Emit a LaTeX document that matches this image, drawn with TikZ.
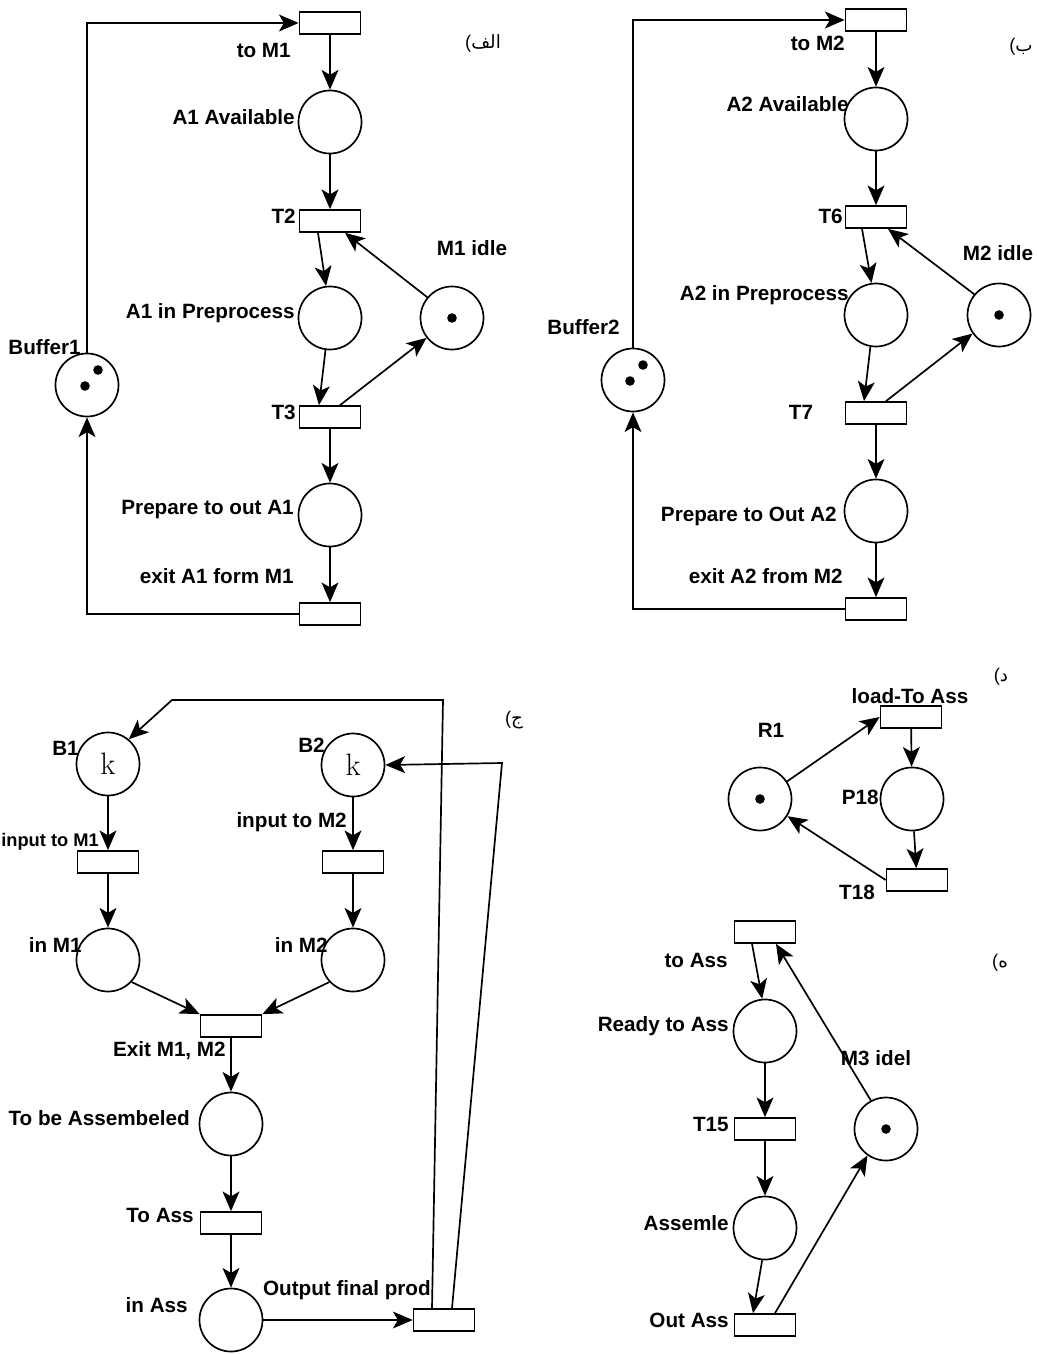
\documentclass[tikz,border=0pt]{standalone}
\usepackage{fontspec}
\newfontfamily\lblfont{Liberation Sans}
\newfontfamily\arabicfont[Script=Arabic]{DejaVu Sans}
\TeXXeTstate=1
\usetikzlibrary{arrows.meta,calc}
\tikzset{
  pn/place/.style={draw, circle, line width=1.2pt, minimum size=1.575cm, inner sep=0pt},
  pn/trans/.style={draw, rectangle, line width=1.2pt, minimum width=1.525cm, minimum height=0.55cm, inner sep=0pt},
  pn/token/.style={circle, fill=black, inner sep=0pt, minimum size=2.4mm},
  pn/lbl/.style={font=\lblfont\bfseries\fontsize{14.7}{16}\selectfont, inner sep=0pt},
  pn/kay/.style={font=\fontsize{22}{22}\selectfont},
  pn/part/.style={font=\arabicfont\fontsize{13}{15}\selectfont, inner sep=0pt},
  pn/arc/.style={line width=1.2pt, -{Stealth[length=14pt,width=12pt,inset=3.5pt]}}
}
\newcommand\partparen{{\lblfont(}}

\begin{document}
\begin{tikzpicture}[x=0.025cm, y=-0.025cm]
\useasboundingbox (0,0) rectangle (1037,1354);

% panel alef
\node[pn/trans] (tom1) at (330,23) {};
\node[pn/place] (a1av) at (330,122) {};
\node[pn/trans] (t2) at (330,221) {};
\node[pn/place] (a1pre) at (330,318) {};
\node[pn/place] (m1idle) at (452,318) {};
\node[pn/token] (m1tok) at (m1idle) {};
\node[pn/trans] (t3) at (330,417) {};
\node[pn/place] (a1out) at (330,515) {};
\node[pn/trans] (ex1) at (330,614) {};
\node[pn/place] (buf1) at (87,385) {};
\node[pn/token] (b1tokA) at (98,370) {};
\node[pn/token] (b1tokB) at (85,386) {};
\node[pn/lbl, anchor=east] (l-tom1) at (291,50) {to M1};
\node[pn/lbl, anchor=east] (l-a1av) at (295,117) {A1 Available};
\node[pn/lbl, anchor=east] (l-t2) at (296,216) {T2};
\node[pn/lbl] (l-m1idle) at (472,248) {M1 idle};
\node[pn/lbl, anchor=east] (l-a1pre) at (295,313) {A1 in Preprocess};
\node[pn/lbl, anchor=east] (l-buf1) at (81,347) {Buffer1};
\node[pn/lbl, anchor=east] (l-t3) at (296,412) {T3};
\node[pn/lbl, anchor=east] (l-a1out) at (294,510) {Prepare to out A1};
\node[pn/lbl, anchor=east] (l-ex1) at (294,576) {exit A1 form M1};
\node[pn/part] (p-alef) at (483,43) {\partparen\beginR الف\endR};
\draw[pn/arc] (tom1) -- (a1av);
\draw[pn/arc] (a1av) -- (t2);
\draw[pn/arc] ($(t2.south)+(-12,0)$) -- (a1pre.97);
\draw[pn/arc] (m1idle.140) -- ($(t2.south)+(15,0)$);
\draw[pn/arc] (a1pre.262) -- ($(t3.north)+(-11,0)$);
\draw[pn/arc] ($(t3.north)+(10,0)$) -- (m1idle.218);
\draw[pn/arc] (t3) -- (a1out);
\draw[pn/arc] (a1out) -- (ex1);
\draw[pn/arc] (ex1.west) -| (buf1.south);
\draw[pn/arc] (buf1.north) |- (tom1.west);

% panel be
\node[pn/trans] (tom2) at (876,20) {};
\node[pn/place] (a2av) at (876,119) {};
\node[pn/trans] (t6) at (876,217) {};
\node[pn/place] (a2pre) at (876,315) {};
\node[pn/place] (m2idle) at (999,315) {};
\node[pn/token] (m2tok) at (m2idle) {};
\node[pn/trans] (t7) at (876,413) {};
\node[pn/place] (a2out) at (876,511) {};
\node[pn/trans] (ex2) at (876,609) {};
\node[pn/place] (buf2) at (633,380) {};
\node[pn/token] (b2tokA) at (643,365) {};
\node[pn/token] (b2tokB) at (630,381) {};
\node[pn/lbl, anchor=east] (l-tom2) at (845,43) {to M2};
\node[pn/lbl, anchor=east] (l-a2av) at (849,104) {A2 Available};
\node[pn/lbl, anchor=east] (l-t6) at (843,216) {T6};
\node[pn/lbl] (l-m2idle) at (998,253) {M2 idle};
\node[pn/lbl, anchor=east] (l-a2pre) at (849,295) {A2 in Preprocess};
\node[pn/lbl, anchor=east] (l-buf2) at (620,327) {Buffer2};
\node[pn/lbl] (l-t7) at (801,412) {T7};
\node[pn/lbl, anchor=east] (l-a2out) at (837,516) {Prepare to Out A2};
\node[pn/lbl, anchor=east] (l-ex2) at (843,576) {exit A2 from M2};
\node[pn/part] (p-be) at (1021,47) {\partparen\beginR ب\endR};
\draw[pn/arc] (tom2) -- (a2av);
\draw[pn/arc] (a2av) -- (t6);
\draw[pn/arc] ($(t6.south)+(-14,0)$) -- (a2pre.98);
\draw[pn/arc] (m2idle.140) -- ($(t6.south)+(12,0)$);
\draw[pn/arc] (a2pre.260) -- ($(t7.north)+(-12,0)$);
\draw[pn/arc] ($(t7.north)+(10,0)$) -- (m2idle.215);
\draw[pn/arc] (t7) -- (a2out);
\draw[pn/arc] (a2out) -- (ex2);
\draw[pn/arc] (ex2.west) -| (buf2.south);
\draw[pn/arc] (buf2.north) |- (tom2.west);

% panel jim
\node[pn/place, pn/kay] (b1) at (108,764) {k};
\node[pn/place, pn/kay] (b2) at (353,765) {k};
\node[pn/trans] (in1t) at (108,862) {};
\node[pn/trans] (in2t) at (353,862) {};
\node[pn/place] (inm1) at (108,960) {};
\node[pn/place] (inm2) at (353,960) {};
\node[pn/trans] (exm) at (231,1026) {};
\node[pn/place] (tobe) at (231,1124) {};
\node[pn/trans] (toass) at (231,1223) {};
\node[pn/place] (inass) at (231,1320) {};
\node[pn/trans] (outp) at (444,1320) {};
\coordinate (cA) at (443,700);
\coordinate (cB) at (172,700);
\coordinate (cC) at (502,763);
\node[pn/lbl, anchor=east] (l-b1) at (79,748) {B1};
\node[pn/lbl, anchor=east] (l-b2) at (325,745) {B2};
\node[pn/lbl, anchor=west, font=\lblfont\bfseries\fontsize{13}{15}\selectfont] (l-in1t) at (1,842) {input to M1};
\node[pn/lbl, anchor=east] (l-in2t) at (347,822) {input to M2};
\node[pn/lbl, anchor=east] (l-inm1) at (82,945) {in M1};
\node[pn/lbl, anchor=east] (l-inm2) at (328,945) {in M2};
\node[pn/lbl, anchor=east] (l-exm) at (226,1051) {Exit M1, M2};
\node[pn/lbl, anchor=east] (l-tobe) at (190,1118) {To be Assembeled};
\node[pn/lbl, anchor=east] (l-toass) at (194,1215) {To Ass};
\node[pn/lbl, anchor=east] (l-inass) at (188,1305) {in Ass};
\node[pn/lbl, anchor=east] (l-outp) at (431,1290) {Output final prod};
\node[pn/part] (p-jim) at (514,720) {\partparen\beginR ج\endR};
\draw[pn/arc] (b1) -- (in1t);
\draw[pn/arc] (b2) -- (in2t);
\draw[pn/arc] (in1t) -- (inm1);
\draw[pn/arc] (in2t) -- (inm2);
\draw[pn/arc] (inm1.-43) -- (exm.north west);
\draw[pn/arc] (inm2.223) -- (exm.north east);
\draw[pn/arc] (exm) -- (tobe);
\draw[pn/arc] (tobe) -- (toass);
\draw[pn/arc] (toass) -- (inass);
\draw[pn/arc] (inass) -- (outp);
\draw[pn/arc] ($(outp.north)+(-12,0)$) -- (cA) -- (cB) -- (b1.50);
\draw[pn/arc] ($(outp.north)+(8,0)$) -- (cC) -- (b2.east);

% panel dal
\node[pn/place] (r1) at (760,799) {};
\node[pn/token] (r1tok) at (r1) {};
\node[pn/trans] (loadt) at (911,717) {};
\node[pn/place] (p18) at (912,799) {};
\node[pn/trans] (t18) at (917,880) {};
\node[pn/lbl] (l-loadt) at (910,696) {load-To Ass};
\node[pn/lbl] (l-r1) at (771,730) {R1};
\node[pn/lbl, anchor=east] (l-p18) at (879,797) {P18};
\node[pn/lbl] (l-t18) at (857,892) {T18};
\node[pn/part] (p-dal) at (1001,677) {\partparen\beginR د\endR};
\draw[pn/arc] (r1.33) -- (loadt.west);
\draw[pn/arc] (loadt) -- (p18);
\draw[pn/arc] (p18) -- (t18);
\draw[pn/arc] (t18.west) -- (r1.-32);

% panel he
\node[pn/trans] (toasst) at (765,932) {};
\node[pn/place] (ready) at (765,1031) {};
\node[pn/trans] (t15) at (765,1129) {};
\node[pn/place] (assem) at (765,1228) {};
\node[pn/trans] (outass) at (765,1325) {};
\node[pn/place] (m3) at (886,1129) {};
\node[pn/token] (m3tok) at (m3) {};
\node[pn/lbl, anchor=east] (l-toasst) at (728,960) {to Ass};
\node[pn/lbl, anchor=east] (l-ready) at (729,1026) {Ready to Ass};
\node[pn/lbl, anchor=east] (l-t15) at (729,1124) {T15};
\node[pn/lbl, anchor=east] (l-assem) at (729,1223) {Assemle};
\node[pn/lbl, anchor=east] (l-outass) at (729,1320) {Out Ass};
\node[pn/lbl] (l-m3) at (876,1058) {M3 idel};
\node[pn/part] (p-he) at (1000,963) {\partparen\beginR ه\endR};
\draw[pn/arc] ($(toasst.south)+(-13,0)$) -- (ready.95);
\draw[pn/arc] (m3.118) -- ($(toasst.south)+(11,0)$);
\draw[pn/arc] (ready) -- (t15);
\draw[pn/arc] (t15) -- (assem);
\draw[pn/arc] (assem.265) -- ($(outass.north)+(-12,0)$);
\draw[pn/arc] ($(outass.north)+(10,0)$) -- (m3.235);
\end{tikzpicture}
\end{document}
